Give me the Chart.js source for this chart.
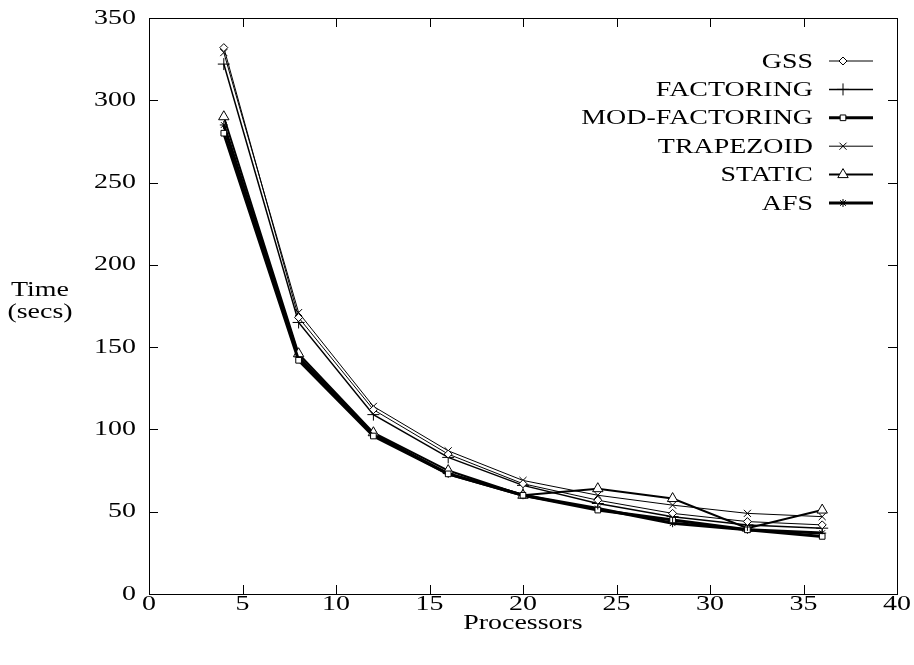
<!DOCTYPE html>
<html>
<head>
<meta charset="utf-8">
<script src="https://cdn.jsdelivr.net/npm/chart.js@4/dist/chart.umd.min.js"></script>
<style>
  html, body { margin: 0; padding: 0; background: #fff; }
  #wrap { width: 914px; height: 665px; }
</style>
</head>
<body>
<div id="wrap"><canvas id="chart"></canvas></div>
<script>
var processors = [4, 8, 12, 16, 20, 24, 28, 32, 36];
var gss        = [332, 168, 112, 85, 67, 57, 49, 44, 42];
var factoring  = [322, 165, 109, 83, 66, 55, 47, 42, 40];
var modFact    = [280, 142, 96, 73, 60, 51, 45, 39, 35];
var trapezoid  = [329, 171, 114, 87, 69, 60, 54, 49, 47];
var staticS    = [290, 146, 98, 75, 60, 64, 58, 40, 51];
var afs        = [285, 144, 97, 73, 60, 52, 43, 39, 37];

var xTicks = [0, 5, 10, 15, 20, 25, 30, 35, 40];
var yTicks = [0, 50, 100, 150, 200, 250, 300, 350];

var FONT = "21px 'Liberation Serif', 'DejaVu Serif', serif";
var SX = 1.33; // the original typeface is much wider

function pts(ys) {
    return processors.map(function (x, i) { return { x: x, y: ys[i] }; });
}

function series(label, ys, style, radius, width) {
    return {
        label: label,
        data: pts(ys),
        borderColor: "#000",
        backgroundColor: "#fff",
        borderWidth: width,
        pointStyle: style,
        pointRadius: radius,
        pointBorderColor: "#000",
        pointBackgroundColor: "#fff",
        pointBorderWidth: 1,
        tension: 0
    };
}

var datasets = [
    series("GSS", gss, "rectRot", 4, 1),
    series("FACTORING", factoring, "cross", 6, 1.5),
    series("MOD-FACTORING", modFact, "rect", 4, 3),
    series("TRAPEZOID", trapezoid, "crossRot", 5, 1),
    series("STATIC", staticS, "triangle", 6, 2),
    series("AFS", afs, "star", 4, 3)
];

function wideText(ctx, str, x, y, align) {
    ctx.save();
    ctx.translate(x, y);
    ctx.scale(SX, 1);
    ctx.font = FONT;
    ctx.fillStyle = "#000";
    ctx.textAlign = align;
    ctx.textBaseline = "middle";
    ctx.fillText(str, 0, 0);
    ctx.restore();
}

// gnuplot style frame, inward ticks, labels and legend
var framePlugin = {
    id: "frame",
    afterDraw: function (chart) {
        var ctx = chart.ctx;
        var a = chart.chartArea;
        var xs = chart.scales.x, ys = chart.scales.y;
        ctx.save();
        ctx.strokeStyle = "#000";
        ctx.lineWidth = 1;
        ctx.strokeRect(Math.round(a.left) + 0.5, Math.round(a.top) + 0.5,
            Math.round(a.right - a.left), Math.round(a.bottom - a.top));
        var tl = 9;
        ctx.beginPath();
        xTicks.forEach(function (v) {
            var px = Math.round(xs.getPixelForValue(v)) + 0.5;
            ctx.moveTo(px, a.bottom); ctx.lineTo(px, a.bottom - tl);
            ctx.moveTo(px, a.top); ctx.lineTo(px, a.top + tl);
        });
        yTicks.forEach(function (v) {
            var py = Math.round(ys.getPixelForValue(v)) + 0.5;
            ctx.moveTo(a.left, py); ctx.lineTo(a.left + tl, py);
            ctx.moveTo(a.right, py); ctx.lineTo(a.right - tl, py);
        });
        ctx.stroke();

        xTicks.forEach(function (v) {
            wideText(ctx, String(v), xs.getPixelForValue(v), a.bottom + 10, "center");
        });
        yTicks.forEach(function (v) {
            wideText(ctx, String(v), a.left - 13, ys.getPixelForValue(v), "right");
        });

        wideText(ctx, "Processors", (a.left + a.right) / 2, 623, "center");
        wideText(ctx, "Time", 40, 290, "center");
        wideText(ctx, "(secs)", 40, 312, "center");

        // legend
        var rowY = 61, step = 28.4;
        chart.data.datasets.forEach(function (ds, i) {
            var y = rowY + i * step;
            wideText(ctx, ds.label, 813, y + 1, "right");
            ctx.beginPath();
            ctx.strokeStyle = "#000";
            ctx.lineWidth = ds.borderWidth;
            ctx.moveTo(829, y); ctx.lineTo(873, y);
            ctx.stroke();
            if (Chart.helpers && Chart.helpers.drawPoint) {
                ctx.lineWidth = 1;
                ctx.fillStyle = "#fff";
                Chart.helpers.drawPoint(ctx, {
                    pointStyle: ds.pointStyle,
                    radius: ds.pointRadius,
                    rotation: 0,
                    borderWidth: 1
                }, 843, y);
            }
        });
        ctx.restore();
    }
};

new Chart(document.getElementById("chart"), {
    type: "line",
    data: { datasets: datasets },
    options: {
        responsive: true,
        maintainAspectRatio: false,
        animation: false,
        layout: { padding: { top: 18, right: 17, left: 0, bottom: 0 } },
        plugins: {
            legend: { display: false },
            tooltip: { enabled: false }
        },
        scales: {
            x: {
                type: "linear",
                min: 0, max: 40,
                afterFit: function (s) { s.height = 71; },
                grid: { display: false },
                border: { display: false },
                ticks: { display: false }
            },
            y: {
                min: 0, max: 350,
                afterFit: function (s) { s.width = 149; },
                grid: { display: false },
                border: { display: false },
                ticks: { display: false }
            }
        }
    },
    plugins: [framePlugin]
});
</script>
</body>
</html>
